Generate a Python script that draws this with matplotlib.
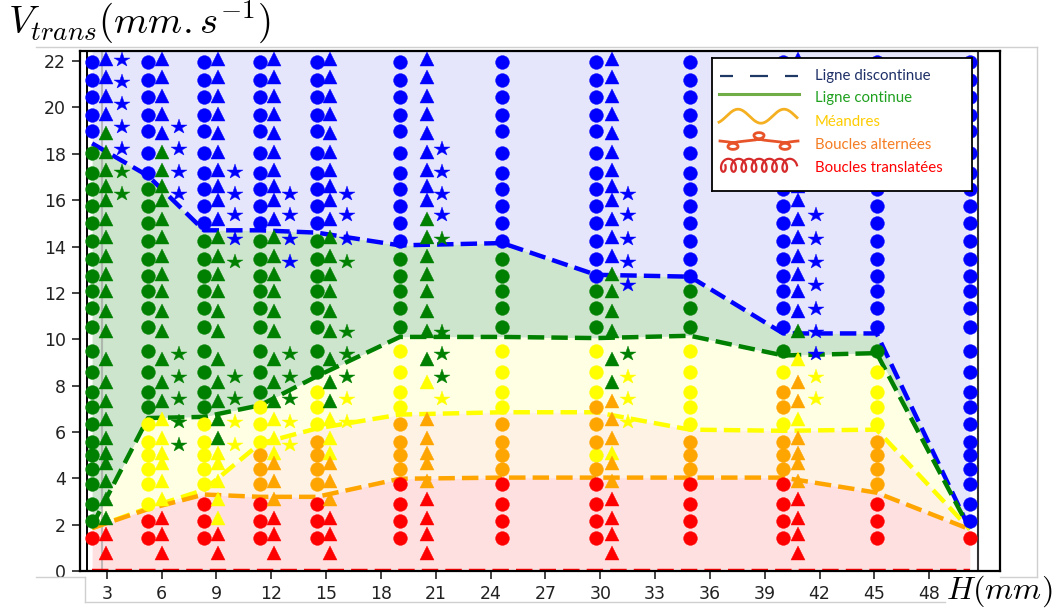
import numpy as np
import matplotlib
matplotlib.use("Agg")
import matplotlib.pyplot as plt
from matplotlib.lines import Line2D

plt.rcParams['mathtext.fontset'] = 'cm'

# niveaux de vitesse (mm/s), un jeu par type de marqueur
circle_levels = [1.41, 2.16, 2.91, 3.77, 4.39, 5.01, 5.55, 6.34, 7.06, 7.71, 8.57, 9.51, 10.52, 11.36,
                 12.10, 12.75, 13.47, 14.26, 15.01, 15.77, 16.49, 17.19, 18.03, 18.98, 19.66, 20.45,
                 21.20, 21.97]
tri_levels = [0.79, 1.59, 2.30, 3.10, 3.89, 4.68, 5.10, 5.76, 6.56, 7.35, 8.14, 9.15, 10.37, 11.20,
              12.10, 12.80, 13.60, 14.40, 15.20, 15.99, 16.60, 17.30, 18.10, 18.90, 19.70, 20.50,
              21.30, 22.10]
star_levels = [5.45, 6.41, 7.42, 8.38, 9.36, 10.30, 11.30, 12.32, 13.32, 14.33, 15.34, 16.28, 17.21,
               18.22, 19.16, 20.17, 21.10, 22.07]

# colonnes : position H et regime par plage de niveaux (couleur, premier, dernier)
circle_x = [2.2, 5.26, 8.32, 11.39, 14.49, 19.04, 24.64, 29.77, 34.91, 40.01, 45.12, 50.22]
circle_runs = [
    [("r", 0, 0), ("g", 1, 22), ("b", 23, 27)],
    [("r", 0, 1), ("y", 2, 7), ("g", 8, 20), ("b", 21, 27)],
    [("r", 0, 2), ("y", 3, 7), ("g", 8, 17), ("b", 18, 27)],
    [("r", 0, 2), ("o", 3, 5), ("y", 6, 8), ("g", 9, 17), ("b", 18, 27)],
    [("r", 0, 2), ("o", 3, 6), ("y", 7, 9), ("g", 10, 17), ("b", 18, 27)],
    [("r", 0, 3), ("o", 4, 7), ("y", 8, 11), ("g", 12, 16), ("b", 17, 27)],
    [("r", 0, 3), ("o", 4, 7), ("y", 8, 11), ("g", 12, 16), ("b", 17, 27)],
    [("r", 0, 3), ("o", 4, 4), ("y", 5, 5), ("o", 6, 8), ("y", 9, 11), ("g", 12, 14), ("b", 15, 27)],
    [("r", 0, 3), ("o", 4, 6), ("y", 7, 11), ("g", 12, 14), ("b", 15, 27)],
    [("r", 0, 3), ("o", 4, 6), ("y", 7, 7), ("o", 8, 9), ("y", 10, 10), ("g", 11, 11), ("b", 12, 27)],
    [("r", 0, 2), ("o", 3, 6), ("y", 7, 10), ("g", 11, 11), ("b", 12, 27)],
    [("r", 0, 0), ("b", 1, 27)],
]

tri_x = [2.96, 6.03, 9.09, 12.15, 15.22, 20.51, 30.63, 40.83]
tri_runs = [
    [("r", 0, 1), ("g", 2, 23), ("b", 24, 27)],
    [("r", 0, 2), ("y", 3, 8), ("g", 9, 22), ("b", 23, 27)],
    [("r", 0, 1), ("y", 2, 6), ("g", 7, 17), ("b", 18, 27)],
    [("r", 0, 2), ("o", 3, 5), ("y", 6, 8), ("g", 9, 17), ("b", 18, 27)],
    [("r", 0, 2), ("o", 3, 5), ("y", 6, 8), ("g", 9, 17), ("b", 18, 27)],
    [("r", 0, 3), ("o", 4, 8), ("y", 10, 10), ("g", 11, 18), ("b", 19, 27)],
    [("r", 0, 3), ("o", 4, 5), ("y", 6, 6), ("o", 7, 9), ("g", 10, 15), ("b", 16, 27)],
    [("r", 0, 3), ("o", 4, 7), ("y", 8, 8), ("o", 9, 10), ("y", 11, 11), ("g", 12, 12), ("b", 13, 27)],
]

star_x = [3.84, 6.97, 10.02, 13.03, 16.13, 21.33, 31.53, 41.79]
star_runs = [
    [("g", 11, 12), ("b", 13, 17)],
    [("g", 0, 4), ("b", 11, 14)],
    [("y", 0, 1), ("g", 2, 3), ("g", 8, 8), ("b", 9, 12)],
    [("y", 0, 1), ("g", 2, 4), ("b", 8, 11)],
    [("y", 1, 2), ("g", 3, 5), ("g", 8, 8), ("b", 9, 11)],
    [("y", 2, 2), ("g", 3, 5), ("g", 9, 9), ("b", 10, 13)],
    [("y", 1, 3), ("g", 4, 4), ("b", 7, 11)],
    [("y", 2, 3), ("b", 4, 10)],
]

# frontieres entre regimes (aux abscisses des cercles)
bound_x = circle_x
blue_line = [18.45, 17.05, 14.7, 14.7, 14.6, 14.05, 14.15, 12.78, 12.7, 10.25, 10.25, 1.8]
green_line = [1.95, 6.6, 6.65, 7.15, 8.4, 10.1, 10.1, 10.05, 10.15, 9.3, 9.4, 1.8]
yellow_line = [1.85, 2.72, 3.5, 5.5, 6.15, 6.75, 6.85, 6.85, 6.1, 6.05, 6.1, 1.8]
orange_line = [1.85, 2.67, 3.3, 3.2, 3.2, 3.98, 4.03, 4.03, 4.03, 4.03, 3.38, 1.8]
red_line = [0, 0, 0, 0, 0, 0, 0, 0, 0, 0, 0, 0]

x_ticks = [3, 6, 9, 12, 15, 18, 21, 24, 27, 30, 33, 36, 39, 42, 45, 48]
y_ticks = [0, 2, 4, 6, 8, 10, 12, 14, 16, 18, 20, 22]

legend_labels = ["Ligne discontinue", "Ligne continue", "Méandres",
                 "Boucles alternées", "Boucles translatées"]
legend_text_colors = ["#1f3068", "#1fa01f", "#ffcc00", "#f57c22", "#ff0000"]

colors = {"r": "red", "o": "orange", "y": "yellow", "g": "green", "b": "blue"}

W, H = 1061, 613


def fx(px):
    return px / W


def fy(py):
    return 1 - py / H


fig = plt.figure(figsize=(W / 100, H / 100), dpi=100)

# cadre gris clair de la capture
for (x0, y0), (x1, y1) in [((36, 46.7), (1037, 46.7)), ((1037, 46.7), (1037, 576.7)),
                           ((36, 576.7), (85, 576.7)), ((1000, 576.7), (1037, 576.7)),
                           ((85, 576.7), (85, 602)), ((85, 602), (945, 602))]:
    fig.add_artist(Line2D([fx(x0), fx(x1)], [fy(y0), fy(y1)], color="#d0d0d0", lw=1,
                          transform=fig.transFigure))

ax = fig.add_axes([fx(80), fy(571), fx(1000) - fx(80), fy(50.7) - fy(571)])
y_top = 22.45
ax.set_xlim(1.539, 51.87)
ax.set_ylim(0, y_top)

# zones de regime
ax.fill_between(bound_x, blue_line, y_top, color="#e5e5fb", lw=0, zorder=0)
ax.fill_between(bound_x, green_line, blue_line, color="#cce5cc", lw=0, zorder=0)
ax.fill_between(bound_x, yellow_line, green_line, color="#ffffe4", lw=0, zorder=0)
ax.fill_between(bound_x, orange_line, yellow_line, color="#fef2e4", lw=0, zorder=0)
ax.fill_between(bound_x, red_line, orange_line, color="#ffe0e0", lw=0, zorder=0)

ax.axvline(1.906, color="black", lw=1.4, zorder=1)
ax.axvline(2.726, color="#999999", lw=1.5, alpha=0.6, zorder=1)
ax.axvline(50.68, color="#333333", lw=1.5, zorder=1)

for line, c in [(blue_line, "blue"), (green_line, "green"), (yellow_line, "yellow"),
                (orange_line, "orange"), (red_line, "red")]:
    ax.plot(bound_x, line, color=c, lw=3.2, ls="--", zorder=2)

# points experimentaux
groups = {}
for marker, xs, runs_all, levels in [("o", circle_x, circle_runs, circle_levels),
                                     ("^", tri_x, tri_runs, tri_levels),
                                     ("*", star_x, star_runs, star_levels)]:
    for x, runs in zip(xs, runs_all):
        for c, i0, i1 in runs:
            for i in range(i0, i1 + 1):
                groups.setdefault((marker, c), ([], []))
                groups[(marker, c)][0].append(x)
                groups[(marker, c)][1].append(levels[i])

sizes = {"o": 9.9, "^": 9.5, "*": 11.5}
for (marker, c), (xs, ys) in groups.items():
    ax.plot(xs, ys, ls="none", marker=marker, ms=sizes[marker], color=colors[c],
            mec=colors[c], mew=0.3, zorder=3)

ax.set_xticks(x_ticks)
ax.set_yticks(y_ticks)
ax.tick_params(length=6, width=1.2, labelsize=12.5, pad=4, colors="#222222")
for s in ax.spines.values():
    s.set_linewidth(1.6)
    s.set_color("black")

fig.text(fx(8), fy(22), r"$V_{trans}(mm.s^{-1})$", fontsize=28, ha="left", va="center")
fig.text(fx(946), fy(591), r"$H(mm)$", fontsize=23, ha="left", va="center")

# legende dessinee a la main (icones des regimes)
lx0, lx1, ly0, ly1 = 711.7, 971.7, 58.3, 190.7
leg = fig.add_axes([fx(lx0), fy(ly1), fx(lx1) - fx(lx0), fy(ly0) - fy(ly1)], zorder=10)
leg.set_xlim(lx0, lx1)
leg.set_ylim(ly1, ly0)
leg.set_xticks([])
leg.set_yticks([])
leg.set_facecolor("white")
for s in leg.spines.values():
    s.set_linewidth(1.3)
    s.set_color("black")

rows = [75.7, 98.3, 121.7, 145, 168.3]
for a, b in [(720, 733), (750, 768), (785, 798)]:
    leg.plot([a, b], [rows[0], rows[0]], color="#1f3864", lw=1.6, solid_capstyle="butt")
leg.plot([719, 799], [rows[1] - 4, rows[1] - 4], color="#70ad47", lw=2.2)

xw = np.linspace(719, 797, 200)
leg.plot(xw, rows[2] - 5.5 - 7 * np.cos(2 * np.pi * (xw - 738) / 46), color="#f5b021", lw=2)

t = np.linspace(np.pi, 4 * np.pi, 600)
xa = t + 1.3 * np.sin(2 * t)
xa = 720 + (xa - np.pi) / (3 * np.pi) * 78
leg.plot(xa, rows[3] - 4 - 7 * (np.sin(t) - 0.2 * np.sin(3 * t)), color="#e8542a", lw=2)

t = np.linspace(-0.5 * np.pi, 13.5 * np.pi, 600)
xc = 1.77 * t - 5 * np.sin(t)
xc = 721 + (xc - xc.min()) / (xc.max() - xc.min()) * 76
leg.plot(xc, rows[4] - 3 + 6.5 * np.cos(t), color="#d62b2b", lw=1.6)

for yv, lab, c in zip(rows, legend_labels, legend_text_colors):
    leg.text(815, yv, lab, color=c, fontsize=10.8, family=["Lato", "DejaVu Sans"],
             ha="left", va="center")

fig.savefig("out.png", dpi=100)
